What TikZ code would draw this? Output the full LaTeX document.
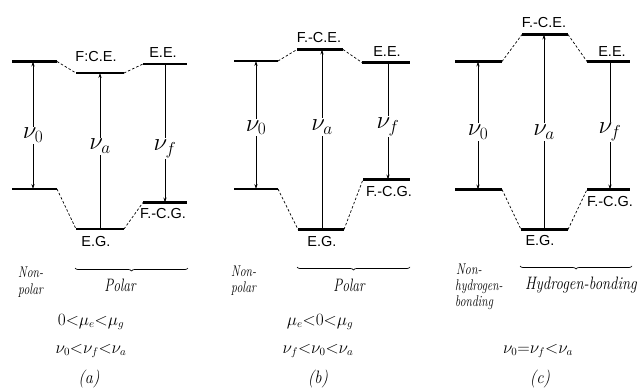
\documentclass[tikz,border=0pt]{standalone}
\usepackage{fontspec}
\usepackage{graphicx}
\newfontfamily\lab{Liberation Sans}
\usetikzlibrary{decorations.pathreplacing,arrows.meta}
\newcommand{\hw}[2][0.78]{\scalebox{#1}[1]{#2}}
\begin{document}
\begin{tikzpicture}[x=1pt,y=-1pt,
 level/.style={line width=2.8pt},
 conn/.style={line width=0.7pt, dash pattern=on 2.5pt off 2pt},
 trans/.style={line width=0.6pt},
 up/.style={-{Stealth[length=5pt,width=3.2pt]}},
 both/.style={{Stealth[length=5pt,width=3.2pt]}-{Stealth[length=5pt,width=3.2pt]}},
 lvl/.style={font=\lab\fontsize{14.5}{14.5}\selectfont, inner sep=0pt},
 nu/.style={font=\fontsize{23}{23}\selectfont, fill=white, inner sep=1.5pt},
 hand/.style={font=\itshape\fontsize{18}{18}\selectfont, inner sep=0pt},
 rel/.style={font=\itshape\fontsize{16}{16}\selectfont, inner sep=0pt},
 small/.style={font=\itshape\fontsize{15.5}{15.5}\selectfont, inner sep=0pt},
 brc/.style={decorate, decoration={brace, mirror, amplitude=3pt}, line width=0.7pt},
]
\useasboundingbox (0,0) rectangle (638,391);

% ---------------- panel (a) ----------------
\coordinate (a0tl) at (12,61.5);  \coordinate (a0tr) at (57,61.5);
\coordinate (a0bl) at (12,189);   \coordinate (a0br) at (57,189);
\coordinate (acel) at (76,73);    \coordinate (acer) at (124,73);
\coordinate (aeel) at (143,64);   \coordinate (aeer) at (187,64);
\coordinate (agl) at (76,229);    \coordinate (agr) at (124,229);
\coordinate (acgl) at (143,202.5);\coordinate (acgr) at (187,202.5);
\draw[level] (a0tl) -- (a0tr); \draw[level] (a0bl) -- (a0br);
\draw[level] (acel) -- (acer); \draw[level] (aeel) -- (aeer);
\draw[level] (agl) -- (agr);   \draw[level] (acgl) -- (acgr);
\draw[conn] (a0tr) -- (acel); \draw[conn] (acer) -- (aeel);
\draw[conn] (a0br) -- (agl);  \draw[conn] (agr) -- (acgl);
\coordinate (a1t) at (33,61.5);  \coordinate (a1b) at (33,189);
\coordinate (a2t) at (100,73);   \coordinate (a2b) at (100,229);
\coordinate (a3t) at (165,64);   \coordinate (a3b) at (165,202.5);
\draw[trans,both] (a1t) -- node[nu,pos=0.58]{$\nu_0$} (a1b);
\draw[trans,up] (a2b) -- node[nu,pos=0.53]{$\nu_a$} (a2t);
\draw[trans,up] (a3t) -- node[nu,pos=0.61]{$\nu_f$} (a3b);
\node[lvl] (aceT) at (96,57) {F:C.E.};
\node[lvl] (aeeT) at (163,53) {E.E.};
\node[lvl] (acgT) at (163,213.5) {F.-C.G.};
\node[lvl] (agT) at (96,241.5) {E.G.};
\node[small, anchor=base west] (anp1) at (18,277.5) {\hw[0.76]{Non-}};
\node[small, anchor=base west] (anp2) at (18,294) {\hw[0.76]{polar}};
\coordinate (abl) at (75,268); \coordinate (abr) at (188,268);
\draw[brc] (abl) -- (abr);
\node[hand] (apol) at (120,285) {\hw[0.75]{Polar}};
\node[rel] (amu) at (91,322) {$0{<}\mu_e{<}\mu_g$};
\node[rel] (anu) at (91,351) {$\nu_0{<}\nu_f{<}\nu_a$};
\node[hand] (alab) at (89,379) {\hw[0.9]{(a)}};

% ---------------- panel (b) ----------------
\coordinate (b0tl) at (234,61);   \coordinate (b0tr) at (278,61);
\coordinate (b0bl) at (234,189);  \coordinate (b0br) at (278,189);
\coordinate (bcel) at (297,49.5); \coordinate (bcer) at (343,49.5);
\coordinate (beel) at (362,62.5); \coordinate (beer) at (410,62.5);
\coordinate (bgl) at (298,229.5); \coordinate (bgr) at (344,229.5);
\coordinate (bcgl) at (363,179.5);\coordinate (bcgr) at (410,179.5);
\draw[level] (b0tl) -- (b0tr); \draw[level] (b0bl) -- (b0br);
\draw[level] (bcel) -- (bcer); \draw[level] (beel) -- (beer);
\draw[level] (bgl) -- (bgr);   \draw[level] (bcgl) -- (bcgr);
\draw[conn] (b0tr) -- (bcel); \draw[conn] (bcer) -- (beel);
\draw[conn] (b0br) -- (bgl);  \draw[conn] (bgr) -- (bcgl);
\coordinate (b1t) at (256,61);   \coordinate (b1b) at (256,189);
\coordinate (b2t) at (322,49.5); \coordinate (b2b) at (322,229.5);
\coordinate (b3t) at (388,62.5); \coordinate (b3b) at (388,179.5);
\draw[trans,both] (b1t) -- node[nu,pos=0.52]{$\nu_0$} (b1b);
\draw[trans,up] (b2b) -- node[nu,pos=0.57]{$\nu_a$} (b2t);
\draw[trans,up] (b3t) -- node[nu,pos=0.55]{$\nu_f$} (b3b);
\node[lvl] (bceT) at (319,37.5) {F.-C.E.};
\node[lvl] (beeT) at (387,51.5) {E.E.};
\node[lvl] (bcgT) at (389,191.5) {F.-C.G.};
\node[lvl] (bgT) at (322,242) {E.G.};
\node[small, anchor=base west] (bnp1) at (231,276) {\hw[0.76]{Non-}};
\node[small, anchor=base west] (bnp2) at (231,292.5) {\hw[0.76]{polar}};
\coordinate (bbl) at (297,267); \coordinate (bbr) at (410,267);
\draw[brc] (bbl) -- (bbr);
\node[hand] (bpol) at (349,285) {\hw[0.75]{Polar}};
\node[rel] (bmu) at (320,322) {$\mu_e{<}0{<}\mu_g$};
\node[rel] (bnu) at (318,351) {$\nu_f{<}\nu_0{<}\nu_a$};
\node[hand] (blab) at (318,379) {\hw[0.9]{(b)}};

% ---------------- panel (c) ----------------
\coordinate (c0tl) at (455,61.5); \coordinate (c0tr) at (502,61.5);
\coordinate (c0bl) at (455,189.5);\coordinate (c0br) at (502,189.5);
\coordinate (ccel) at (522,34.5); \coordinate (ccer) at (568,34.5);
\coordinate (ceel) at (587,61.5); \coordinate (ceer) at (630,61.5);
\coordinate (cgl) at (521,229.5); \coordinate (cgr) at (568,229.5);
\coordinate (ccgl) at (587,189.5);\coordinate (ccgr) at (630,189.5);
\draw[level] (c0tl) -- (c0tr); \draw[level] (c0bl) -- (c0br);
\draw[level] (ccel) -- (ccer); \draw[level] (ceel) -- (ceer);
\draw[level] (cgl) -- (cgr);   \draw[level] (ccgl) -- (ccgr);
\draw[conn] (c0tr) -- (ccel); \draw[conn] (ccer) -- (ceel);
\draw[conn] (c0br) -- (cgl);  \draw[conn] (cgr) -- (ccgl);
\coordinate (c1t) at (478,61.5);  \coordinate (c1b) at (478,189.5);
\coordinate (c2t) at (544,34.5);  \coordinate (c2b) at (544,229.5);
\coordinate (c3t) at (610,61.5);  \coordinate (c3b) at (610,189.5);
\draw[trans,both] (c1t) -- node[nu,pos=0.55]{$\nu_0$} (c1b);
\draw[trans,up] (c2b) -- node[nu,pos=0.5]{$\nu_a$} (c2t);
\draw[trans,up] (c3t) -- node[nu,pos=0.55]{$\nu_f$} (c3b);
\node[lvl] (cceT) at (544,23) {F.-C.E.};
\node[lvl] (ceeT) at (612,51.5) {E.E.};
\node[lvl] (ccgT) at (610,202) {F.-C.G.};
\node[lvl] (cgT) at (540,241) {E.G.};
\node[small, anchor=base west] (cnp1) at (456,274.5) {\hw[0.78]{Non-}};
\node[small, anchor=base west] (cnp2) at (455,290) {\hw[0.75]{hydrogen-}};
\node[small, anchor=base west] (cnp3) at (455,306.5) {\hw[0.75]{bonding}};
\coordinate (cbl) at (520,266); \coordinate (cbr) at (632,266);
\draw[brc] (cbl) -- (cbr);
\node[hand, anchor=base east] (cpol) at (637,289) {\hw[0.82]{Hydrogen-bonding}};
\node[rel] (cnu) at (538,351) {$\nu_0{=}\nu_f{<}\nu_a$};
\node[hand] (clab) at (540,379) {\hw[0.9]{(c)}};
\end{tikzpicture}
\end{document}
